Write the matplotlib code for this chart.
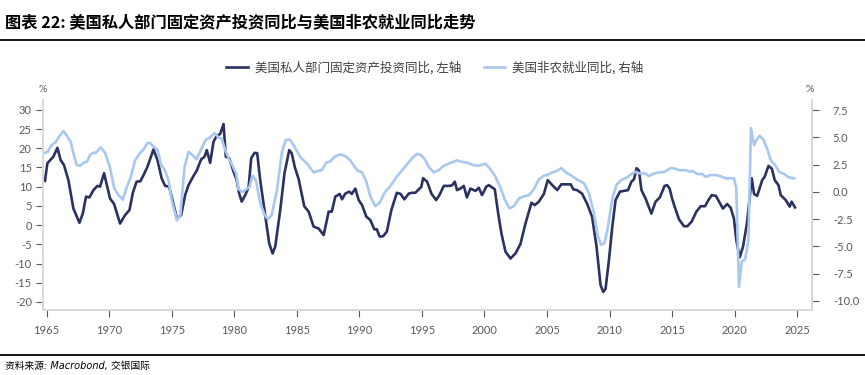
import matplotlib
matplotlib.use('Agg')
import matplotlib.pyplot as plt
from matplotlib.lines import Line2D

matplotlib.rcParams['font.family'] = ['Lato', 'Noto Sans CJK SC', 'DejaVu Sans']
matplotlib.rcParams['axes.unicode_minus'] = False

# 美国私人部门固定资产投资同比 (左轴), 读图估计
inv_year = [1964.88, 1965.07, 1965.55, 1965.87, 1966.13, 1966.4, 1966.75, 1967.15, 1967.63, 1967.9,
            1968.16, 1968.43, 1968.75, 1969.07, 1969.28, 1969.6, 1970.08, 1970.4, 1970.88, 1971.28,
            1971.63, 1971.9, 1972.2, 1972.5, 1972.8, 1973.07, 1973.55, 1973.87, 1974.2, 1974.48,
            1974.8, 1975.07, 1975.42, 1975.76, 1976.08, 1976.35, 1976.75, 1977.0, 1977.36, 1977.63,
            1977.81, 1978.08, 1978.35, 1978.6, 1978.88, 1979.15, 1979.33, 1979.6, 1979.95, 1980.2,
            1980.4, 1980.6, 1980.88, 1981.15, 1981.36, 1981.63, 1981.84, 1982.08, 1982.48, 1982.8,
            1983.07, 1983.28, 1983.68, 1984.02, 1984.4, 1984.6, 1984.85, 1985.15, 1985.6, 1985.95,
            1986.35, 1986.75, 1987.15, 1987.55, 1987.8, 1988.08, 1988.43, 1988.62, 1988.88, 1989.2,
            1989.4, 1989.68, 1989.95, 1990.22, 1990.56, 1990.88, 1991.2, 1991.4, 1991.63, 1991.9,
            1992.2, 1992.56, 1993.0, 1993.3, 1993.6, 1993.95, 1994.2, 1994.48, 1994.75, 1994.95,
            1995.1, 1995.42, 1995.76, 1996.14, 1996.4, 1996.75, 1997.15, 1997.4, 1997.63, 1997.81,
            1998.08, 1998.35, 1998.6, 1998.88, 1999.28, 1999.55, 1999.81, 2000.15, 2000.35, 2000.83,
            2001.1, 2001.36, 2001.68, 2002.08, 2002.48, 2002.88, 2003.28, 2003.76, 2004.02, 2004.35,
            2004.75, 2005.06, 2005.42, 2005.82, 2006.14, 2006.5, 2006.9, 2007.1, 2007.4, 2007.8,
            2008.2, 2008.6, 2008.96, 2009.28, 2009.5, 2009.68, 2009.95, 2010.22, 2010.48, 2010.83,
            2011.15, 2011.48, 2011.75, 2011.95, 2012.16, 2012.35, 2012.55, 2012.88, 2013.34, 2013.68,
            2014.02, 2014.4, 2014.6, 2014.8, 2015.0, 2015.2, 2015.55, 2015.95, 2016.22, 2016.56,
            2016.94, 2017.28, 2017.63, 2017.9, 2018.16, 2018.5, 2018.75, 2019.06, 2019.4, 2019.68,
            2019.94, 2020.13, 2020.4, 2020.67, 2021.0, 2021.36, 2021.55, 2021.8, 2022.2, 2022.4,
            2022.7, 2022.97, 2023.2, 2023.5, 2023.68, 2024.08, 2024.4, 2024.55, 2024.82]
inv_yoy = [11.5, 16.1, 17.8, 20.1, 16.9, 15.6, 11.7, 4.3, 0.6, 3.0,
           7.4, 7.2, 9.1, 10.2, 10.0, 13.5, 6.9, 5.5, 0.4, 2.6,
           3.9, 8.4, 11.3, 11.4, 13.3, 15.2, 19.7, 16.9, 12.2, 10.2,
           10.0, 6.5, 1.7, 2.6, 7.8, 10.4, 12.8, 14.1, 17.1, 17.8,
           19.5, 16.2, 21.7, 23.2, 23.7, 26.3, 17.8, 17.4, 13.9, 11.7,
           8.2, 6.1, 7.8, 9.8, 17.4, 18.8, 18.7, 11.7, 2.6, -4.8,
           -7.4, -5.6, 3.9, 13.5, 19.5, 18.7, 15.0, 12.0, 4.9, 3.5,
           -0.4, -0.9, -2.6, 3.5, 3.5, 7.4, 8.1, 6.7, 8.2, 8.7,
           8.1, 9.5, 6.5, 5.2, 2.2, 1.3, -1.1, -1.1, -3.0, -2.9,
           -1.7, 3.9, 8.4, 8.1, 6.7, 8.2, 8.4, 8.4, 9.3, 9.9,
           12.2, 11.3, 8.2, 6.5, 7.8, 10.2, 10.2, 10.3, 11.3, 9.1,
           9.5, 10.2, 7.2, 9.5, 8.9, 9.7, 7.8, 10.0, 10.4, 9.3,
           3.0, -2.2, -6.9, -8.7, -7.4, -4.9, 0.4, 5.8, 5.2, 6.1,
           8.1, 11.7, 10.4, 9.1, 10.6, 10.6, 10.6, 9.3, 9.1, 8.2,
           5.6, 2.2, -5.6, -15.6, -17.4, -16.6, -9.1, -0.4, 6.5, 8.7,
           8.9, 9.1, 11.3, 11.9, 14.8, 14.2, 9.1, 6.9, 3.0, 6.1,
           7.2, 10.2, 10.4, 9.5, 6.9, 4.8, 1.5, -0.3, -0.3, 0.9,
           3.5, 4.9, 4.9, 6.5, 7.8, 7.6, 6.1, 4.3, 5.5, 4.5,
           1.7, -3.9, -8.4, -5.6, 0.9, 12.2, 8.1, 7.6, 11.7, 12.6,
           15.4, 14.7, 11.7, 10.4, 7.8, 6.5, 4.8, 6.1, 4.6]

# 美国非农就业同比 (右轴)
emp_year = [1964.88, 1965.1, 1965.4, 1965.75, 1966.08, 1966.35, 1966.6, 1966.93, 1967.15, 1967.4,
            1967.68, 1968.0, 1968.25, 1968.48, 1968.75, 1968.95, 1969.33, 1969.68, 1970.08, 1970.4,
            1970.75, 1971.1, 1971.4, 1971.73, 1972.08, 1972.42, 1972.75, 1973.07, 1973.28, 1973.6,
            1973.87, 1974.13, 1974.5, 1974.75, 1975.0, 1975.42, 1975.7, 1976.03, 1976.35, 1976.65,
            1977.0, 1977.35, 1977.73, 1978.08, 1978.43, 1978.75, 1979.0, 1979.28, 1979.55, 1979.87,
            1980.15, 1980.35, 1980.68, 1980.95, 1981.2, 1981.47, 1981.73, 1982.08, 1982.43, 1982.7,
            1983.0, 1983.42, 1983.82, 1984.14, 1984.45, 1984.8, 1985.28, 1985.82, 1986.35, 1986.75,
            1987.0, 1987.36, 1987.68, 1988.0, 1988.43, 1988.88, 1989.28, 1989.82, 1990.22, 1990.56,
            1990.88, 1991.28, 1991.63, 1992.0, 1992.48, 1992.96, 1993.42, 1993.82, 1994.22, 1994.62,
            1994.93, 1995.23, 1995.55, 1995.95, 1996.35, 1996.75, 1997.15, 1997.48, 1997.81, 1998.2,
            1998.6, 1999.0, 1999.5, 1999.81, 2000.08, 2000.4, 2000.83, 2001.28, 2001.63, 2002.0,
            2002.35, 2002.75, 2003.15, 2003.55, 2003.95, 2004.35, 2004.75, 2005.0, 2005.42, 2005.82,
            2006.14, 2006.5, 2006.9, 2007.4, 2007.95, 2008.35, 2008.75, 2009.07, 2009.35, 2009.6,
            2009.87, 2010.22, 2010.56, 2010.94, 2011.35, 2011.75, 2012.08, 2012.4, 2012.88, 2013.15,
            2013.55, 2013.95, 2014.4, 2014.88, 2015.2, 2015.55, 2016.08, 2016.48, 2016.6, 2017.0,
            2017.4, 2017.68, 2018.08, 2018.48, 2018.88, 2019.28, 2019.68, 2019.95, 2020.13, 2020.34,
            2020.56, 2020.83, 2021.1, 2021.3, 2021.55, 2021.75, 2022.0, 2022.3, 2022.62, 2022.88,
            2023.22, 2023.55, 2023.95, 2024.3, 2024.75]
emp_yoy = [3.6, 3.7, 4.3, 4.6, 5.2, 5.6, 5.2, 4.6, 3.55, 2.5,
           2.4, 2.7, 2.8, 3.4, 3.6, 3.6, 4.1, 3.6, 2.2, 0.4,
           -0.3, -0.7, 0.4, 1.35, 2.9, 3.5, 3.9, 4.5, 4.5, 4.1,
           3.9, 2.6, 1.9, 1.1, -0.7, -2.6, -2.1, 2.3, 3.7, 3.4,
           3.0, 3.9, 4.8, 5.0, 5.4, 5.0, 4.9, 3.85, 3.1, 2.4,
           1.7, 0.25, 0.0, 0.25, 0.4, 1.5, 1.1, -1.0, -2.1, -2.5,
           -2.1, 0.2, 3.7, 4.8, 4.8, 4.2, 3.2, 2.6, 1.8, 1.95,
           2.0, 2.7, 2.8, 3.2, 3.45, 3.3, 2.9, 2.0, 1.8, 0.95,
           -0.4, -1.3, -1.0, -0.1, 0.55, 1.35, 2.0, 2.55, 3.1, 3.5,
           3.4, 3.0, 2.3, 1.8, 2.0, 2.4, 2.6, 2.75, 2.9, 2.75,
           2.7, 2.5, 2.4, 2.5, 2.6, 2.2, 1.5, 0.4, -0.7, -1.5,
           -1.3, -0.6, -0.4, -0.3, 0.25, 1.15, 1.5, 1.55, 1.8, 1.95,
           2.2, 1.8, 1.55, 1.15, 0.8, -0.1, -1.95, -4.1, -4.85, -4.7,
           -3.2, -0.6, 0.65, 1.1, 1.3, 1.65, 1.85, 1.7, 1.7, 1.45,
           1.7, 1.8, 1.85, 2.2, 2.15, 2.0, 2.0, 1.85, 1.95, 1.65,
           1.65, 1.4, 1.55, 1.55, 1.45, 1.25, 1.25, 1.25, 0.35, -8.7,
           -6.4, -6.2, -4.4, 5.85, 4.3, 4.8, 5.15, 4.8, 3.9, 2.9,
           2.5, 1.85, 1.65, 1.35, 1.25]

x_ticks = list(range(1965, 2030, 5))
left_ticks = [-20, -15, -10, -5, 0, 5, 10, 15, 20, 25, 30]
right_ticks = [-10.0, -7.5, -5.0, -2.5, 0.0, 2.5, 5.0, 7.5]

dark = '#2b3160'
light = '#a8c8f0'
grey = '#595959'
spine = '#d9d9d9'

fig = plt.figure(figsize=(8.65, 3.75), dpi=100)

# 标题和上下横线
fig.text(5/865, 1-22/375, '图表 22: 美国私人部门固定资产投资同比与美国非农就业同比走势',
         fontsize=11.7, fontweight='bold', va='center', ha='left',
         family=['Noto Sans CJK SC', 'DejaVu Sans'])
fig.add_artist(Line2D([0, 1], [1-40/375, 1-40/375], color='black', lw=1.3))
fig.add_artist(Line2D([0, 1], [1-355/375, 1-355/375], color='black', lw=1.3))
fig.text(5/865, 1-366/375, '资料来源: Macrobond, 交银国际', fontsize=7, style='italic',
         va='center', ha='left', family=['DejaVu Sans', 'Noto Sans CJK SC'])

ax = fig.add_axes([43/865, 1-310/375, (812-43)/865, (310-100)/375])
ax2 = ax.twinx()

l1, = ax.plot(inv_year, inv_yoy, color=dark, lw=1.9, label='美国私人部门固定资产投资同比, 左轴')
l2, = ax2.plot(emp_year, emp_yoy, color=light, lw=1.9, label='美国非农就业同比, 右轴')

ax.set_xlim(1964.72, 2026.18)
ax.set_ylim(-22.1, 32.55)
ax2.set_ylim(-10.83, 8.44)

ax.set_xticks(x_ticks)
ax.set_yticks(left_ticks)
ax2.set_yticks(right_ticks)
ax2.set_yticklabels(['%.1f' % v for v in right_ticks])

for a in (ax, ax2):
    a.spines['top'].set_visible(False)
    for s in ('left', 'right', 'bottom'):
        a.spines[s].set_color(spine)
        a.spines[s].set_linewidth(1.3)
    a.tick_params(colors=grey, labelsize=8, length=5, width=0.8)
ax.tick_params(axis='y', pad=3)
ax2.tick_params(axis='y', pad=10)
ax.tick_params(axis='x', pad=6)

fig.text(43/865, 1-90/375, '%', fontsize=7.5, color=grey, ha='center', va='center')
fig.text(810/865, 1-90/375, '%', fontsize=7.5, color=grey, ha='center', va='center')

fig.legend(handles=[l1, l2], loc='center', bbox_to_anchor=(435/865, 1-68/375), ncol=2,
           frameon=False, handlelength=1.7, handletextpad=0.6, columnspacing=1.8,
           labelcolor='#404040', prop={'family': ['Noto Sans CJK SC', 'DejaVu Sans'], 'size': 9})

fig.savefig('out.png', dpi=100)
